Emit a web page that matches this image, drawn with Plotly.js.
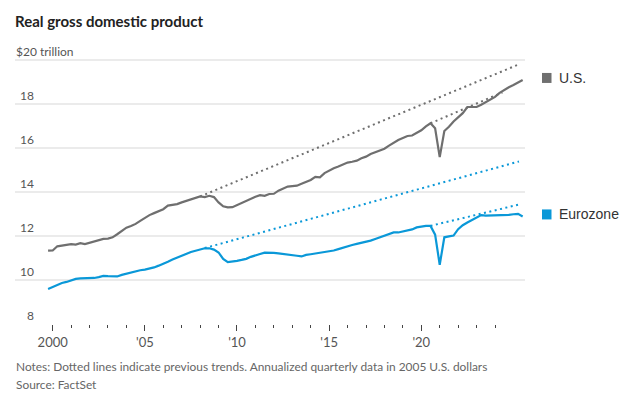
<!DOCTYPE html>
<html>
<head>
<meta charset="utf-8">
<script src="https://cdn.plot.ly/plotly-3.0.1.min.js"></script>
<style>
  html, body { margin: 0; padding: 0; background: #ffffff; }
  #chart { width: 638px; height: 399px; }
</style>
</head>
<body>
<div id="chart"></div>
<script>
// ---------------- DATA ----------------
// Quarterly series, as placed on the chart's year axis (first quarter at 1999.75, one point per quarter)
const firstQuarter = 1999.75;
const quarterStep = 0.25;

const usGDP = [
  11.32, 11.33, 11.52, 11.56, 11.58, 11.62, 11.60, 11.66, 11.62, 11.68,
  11.76, 11.83, 11.86, 11.87, 11.93, 12.07, 12.24, 12.37, 12.44, 12.54,
  12.68, 12.82, 12.94, 13.03, 13.12, 13.21, 13.37, 13.41, 13.44, 13.52,
  13.58, 13.64, 13.71, 13.79, 13.76, 13.82, 13.76, 13.52, 13.34, 13.29,
  13.30, 13.40, 13.50, 13.59, 13.70, 13.78, 13.85, 13.82, 13.90, 13.91,
  14.05, 14.16, 14.24, 14.26, 14.28, 14.37, 14.46, 14.54, 14.68, 14.66,
  14.85, 14.98, 15.07, 15.15, 15.25, 15.33, 15.37, 15.42, 15.53, 15.60,
  15.72, 15.79, 15.86, 15.96, 16.10, 16.25, 16.36, 16.45, 16.54, 16.56,
  16.67, 16.80, 16.98, 17.12, 16.89, 15.58, 16.77, 16.96, 17.20, 17.39,
  17.58, 17.86, 17.85, 17.86, 17.96, 18.09, 18.22, 18.32, 18.50, 18.64,
  18.76, 18.86, 18.98, 19.09
];

const euroGDP = [
   9.58,  9.68,  9.77,  9.85,  9.90,  9.98, 10.04, 10.06, 10.06, 10.06,
  10.08, 10.12, 10.17, 10.16, 10.15, 10.15, 10.22, 10.28, 10.34, 10.40,
  10.43, 10.46, 10.50, 10.56, 10.64, 10.72, 10.82, 10.92, 11.01, 11.10,
  11.19, 11.26, 11.32, 11.36, 11.43, 11.43, 11.37, 11.24, 10.95, 10.80,
  10.82, 10.86, 10.90, 10.95, 11.04, 11.09, 11.17, 11.23, 11.24, 11.22,
  11.20, 11.18, 11.16, 11.12, 11.09, 11.06, 11.13, 11.16, 11.19, 11.21,
  11.25, 11.29, 11.33, 11.39, 11.46, 11.52, 11.58, 11.63, 11.68, 11.71,
  11.78, 11.85, 11.92, 11.99, 12.07, 12.15, 12.15, 12.20, 12.25, 12.29,
  12.38, 12.43, 12.45, 12.45, 12.05, 10.68, 11.93, 11.97, 12.01, 12.30,
  12.48, 12.60, 12.72, 12.83, 12.94, 12.92, 12.92, 12.92, 12.94, 12.94,
  12.95, 12.98, 13.00, 12.88
];

// Previous-trend dotted lines (endpoints)
const usTrendPreGFC_x   = [2008.0, 2025.3];
const usTrendPreGFC_y   = [13.79, 19.80];
const usTrendPreCovid_x = [2020.5, 2024.4];
const usTrendPreCovid_y = [17.12, 18.52];
const euTrendPreGFC_x   = [2008.25, 2025.3];
const euTrendPreGFC_y   = [11.44, 15.38];
const euTrendPreCovid_x = [2020.5, 2025.3];
const euTrendPreCovid_y = [12.45, 13.42];

const seriesNames = ["U.S.", "Eurozone"];

// Axis ticks
const xTickVals = [2000, 2005, 2010, 2015, 2020];
const xTickText = ["2000", "'05", "'10", "'15", "'20"];
const xMinorTickVals = [2000, 2001, 2002, 2003, 2004, 2005, 2006, 2007, 2008, 2009,
                        2010, 2011, 2012, 2013, 2014, 2015, 2016, 2017, 2018, 2019,
                        2020, 2021, 2022, 2023, 2024];
const yTickVals = [8, 10, 12, 14, 16, 18, 20];
const yTickText = ["8", "10", "12", "14", "16", "18", "$20 trillion"];

const titleText = "Real gross domestic product";
const notesText = "Notes: Dotted lines indicate previous trends. Annualized quarterly data in 2005 U.S. dollars";
const sourceText = "Source: FactSet";

// ---------------- STYLE ----------------
const US_COLOR = "#6f6f6f";
const EU_COLOR = "#0a98d8";
const TXT = 'Lato, "Liberation Sans", Arial, sans-serif';
const REGULAR = '"Liberation Sans", Arial, sans-serif';

const quarters = usGDP.map((_, i) => firstQuarter + i * quarterStep);

const dotted = "2px,3.5px";

const traces = [
  { x: usTrendPreGFC_x, y: usTrendPreGFC_y, mode: "lines", line: { color: US_COLOR, width: 2, dash: dotted }, hoverinfo: "skip" },
  { x: usTrendPreCovid_x, y: usTrendPreCovid_y, mode: "lines", line: { color: US_COLOR, width: 2, dash: dotted }, hoverinfo: "skip" },
  { x: euTrendPreGFC_x, y: euTrendPreGFC_y, mode: "lines", line: { color: EU_COLOR, width: 2, dash: dotted }, hoverinfo: "skip" },
  { x: euTrendPreCovid_x, y: euTrendPreCovid_y, mode: "lines", line: { color: EU_COLOR, width: 2, dash: dotted }, hoverinfo: "skip" },
  { x: quarters, y: usGDP, name: seriesNames[0], mode: "lines", line: { color: US_COLOR, width: 2.2 } },
  { x: quarters, y: euroGDP, name: seriesNames[1], mode: "lines", line: { color: EU_COLOR, width: 2.2 } }
];

const PLOT_L = 15, PLOT_R = 525, PLOT_T = 56, PLOT_B = 324;
const plotW = PLOT_R - PLOT_L, plotH = PLOT_B - PLOT_T;
const px2paperX = px => (px - PLOT_L) / plotW;
const px2paperY = py => (PLOT_B - py) / plotH;

const annotations = [];

// y tick labels (sit above their gridlines)
yTickVals.forEach((v, i) => {
  const last = i === yTickVals.length - 1;
  annotations.push({
    xref: "paper", yref: "y",
    x: last ? px2paperX(14) : px2paperX(36),
    xanchor: last ? "left" : "right",
    y: v, yanchor: "bottom", yshift: -1,
    text: yTickText[i], showarrow: false,
    font: { family: TXT, size: 12, color: "#555555" }
  });
});

// series labels at the end of each line
const lastVals = [usGDP[usGDP.length - 1], euroGDP[euroGDP.length - 1]];
const colors = [US_COLOR, EU_COLOR];
const shapes = [];
seriesNames.forEach((nm, i) => {
  annotations.push({
    xref: "paper", yref: "y",
    x: px2paperX(557), xanchor: "left",
    y: lastVals[i], yanchor: "middle", yshift: 2,
    text: nm, showarrow: false,
    font: { family: REGULAR, size: 14, color: "#333333" }
  });
  shapes.push({
    type: "rect", xref: "paper", yref: "y",
    xsizemode: "pixel", ysizemode: "pixel",
    xanchor: 1.0, yanchor: lastVals[i],
    x0: 17, x1: 26.5, y0: 7, y1: -3,
    fillcolor: colors[i], line: { width: 0 }
  });
});

// notes & source
annotations.push({
  xref: "paper", yref: "paper", x: px2paperX(14), xanchor: "left",
  y: px2paperY(366), yanchor: "middle", text: notesText, showarrow: false,
  font: { family: TXT, size: 11.9, color: "#666666" }
});
annotations.push({
  xref: "paper", yref: "paper", x: px2paperX(14), xanchor: "left",
  y: px2paperY(384), yanchor: "middle", text: sourceText, showarrow: false,
  font: { family: TXT, size: 11.9, color: "#666666" }
});

const layout = {
  width: 638, height: 399,
  margin: { l: PLOT_L, r: 638 - PLOT_R, t: PLOT_T, b: 399 - PLOT_B, pad: 0 },
  paper_bgcolor: "#ffffff", plot_bgcolor: "#ffffff",
  showlegend: false,
  title: {
    text: titleText, x: 15 / 638, xref: "container", xanchor: "left",
    y: 1 - 22 / 399, yref: "container", yanchor: "middle",
    font: { family: TXT, size: 15, color: "#222222", weight: 700 }
  },
  xaxis: {
    range: [1997.955, 2025.627],
    tickmode: "array", tickvals: xTickVals, ticktext: xTickText,
    ticks: "outside", ticklen: 6, tickwidth: 1, tickcolor: "#444444",
    minor: { tickmode: "array", tickvals: xMinorTickVals, ticks: "outside", ticklen: 3, tickwidth: 1, tickcolor: "#444444", showgrid: false },
    showgrid: false, zeroline: false, showline: false,
    tickfont: { family: TXT, size: 13, color: "#555555" },
    fixedrange: true
  },
  yaxis: {
    range: [7.985, 20.18],
    tickmode: "array", tickvals: yTickVals,
    showticklabels: false, ticks: "",
    showgrid: true, gridcolor: "#ebebeb", gridwidth: 2,
    zeroline: false, showline: false, fixedrange: true
  },
  annotations: annotations,
  shapes: shapes
};

Plotly.newPlot("chart", traces, layout, { staticPlot: true, displayModeBar: false });
</script>
</body>
</html>
